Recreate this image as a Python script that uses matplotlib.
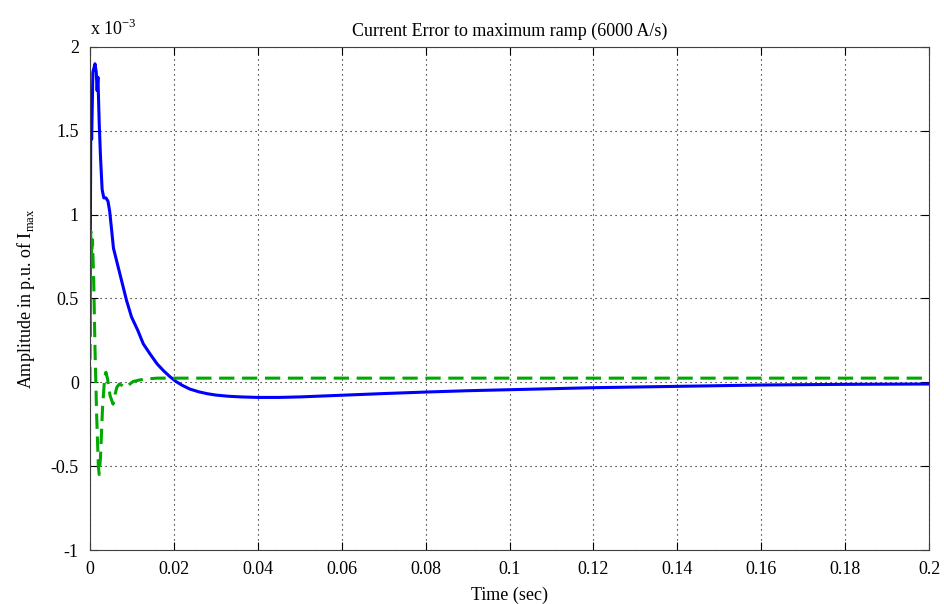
import numpy as np
import matplotlib
matplotlib.use("Agg")
import matplotlib.pyplot as plt
from matplotlib.ticker import FuncFormatter

plt.rcParams["font.family"] = ["Liberation Serif", "DejaVu Serif"]
plt.rcParams["axes.unicode_minus"] = False
plt.rcParams["mathtext.fontset"] = "custom"
plt.rcParams["mathtext.rm"] = "Liberation Serif"

# Strom-Fehler (Werte in 1e-3 p.u.)
t_blue = [0.0, 0.0002, 0.0004, 0.0007, 0.0010, 0.0012, 0.0015, 0.0017, 0.0019,
          0.0022, 0.0025, 0.0029, 0.0033, 0.0038, 0.0043, 0.0047, 0.0052,
          0.0056, 0.0062, 0.0068, 0.0078, 0.0087, 0.0099, 0.0114, 0.0127,
          0.0143, 0.0160, 0.0175, 0.0190, 0.0205, 0.0220, 0.0238, 0.0260,
          0.0280, 0.0300, 0.0330, 0.0360, 0.0400, 0.0450, 0.0500, 0.0600,
          0.0700, 0.0800, 0.0900, 0.1000, 0.1100, 0.1200, 0.1400, 0.1600,
          0.1800, 0.2000]
err_blue = [0.28, 1.58, 1.45, 1.85, 1.88, 1.90, 1.85, 1.74, 1.82,
            1.55, 1.35, 1.15, 1.10, 1.10, 1.08, 1.02, 0.90,
            0.80, 0.74, 0.68, 0.58, 0.49, 0.39, 0.31, 0.23,
            0.17, 0.11, 0.07, 0.035, 0.005, -0.018, -0.040, -0.057,
            -0.068, -0.076, -0.083, -0.087, -0.090, -0.090, -0.087, -0.077,
            -0.067, -0.058, -0.050, -0.044, -0.038, -0.032, -0.024, -0.016,
            -0.012, -0.010]

t_green = [0.0, 0.0002, 0.0004, 0.0006, 0.0009, 0.0012, 0.0016, 0.0020,
           0.0022, 0.0025, 0.0030, 0.0035, 0.0038, 0.0042, 0.0048, 0.0055,
           0.0060, 0.0064, 0.0070, 0.0078, 0.0087, 0.0095, 0.0103, 0.0120,
           0.0135, 0.0160, 0.2000]
err_green = [0.0, 0.90, 0.75, 0.85, 0.60, 0.20, -0.20, -0.50,
             -0.55, -0.45, -0.15, 0.03, 0.06, 0.02, -0.08, -0.13,
             -0.07, -0.03, -0.01, -0.02, -0.03, -0.01, 0.005, 0.015,
             0.02, 0.025, 0.025]

x_ticks = [0, 0.02, 0.04, 0.06, 0.08, 0.1, 0.12, 0.14, 0.16, 0.18, 0.2]
y_ticks = [-1, -0.5, 0, 0.5, 1, 1.5, 2]

fig = plt.figure(figsize=(9.44, 6.04), dpi=100)
ax = fig.add_axes([0.0953, 0.0894, 0.8889, 0.8328])

ax.plot(t_blue, err_blue, color="#0000ff", lw=2.2)
ax.plot(t_green, err_green, color="#00a800", lw=2.2, ls=(0, (5, 2.5)))

ax.set_xlim(0, 0.2)
ax.set_ylim(-1, 2)
ax.set_xticks(x_ticks)
ax.set_yticks(y_ticks)
ax.xaxis.set_major_formatter(FuncFormatter(lambda v, p: "%g" % v))
ax.yaxis.set_major_formatter(FuncFormatter(lambda v, p: "%g" % v))
ax.tick_params(direction="in", top=True, right=True, length=6,
               labelsize=13, width=0.8)
ax.tick_params(axis="x", pad=8)
ax.tick_params(axis="y", pad=8)
ax.grid(True, color="black", ls=(0, (1, 3.5)), lw=0.8)
for s in ax.spines.values():
    s.set_color("#404040")

ax.set_title("Current Error to maximum ramp (6000 A/s)", fontsize=13, pad=8)
ax.set_xlabel("Time (sec)", fontsize=13, labelpad=6)
ax.set_ylabel(r"Amplitude in p.u. of I$_{\rm max}$", fontsize=13, labelpad=10)
ax.text(0.0, 1.015, r"x 10$^{-3}$", transform=ax.transAxes, fontsize=13,
        ha="left", va="bottom")

fig.savefig("out.png", dpi=100)
